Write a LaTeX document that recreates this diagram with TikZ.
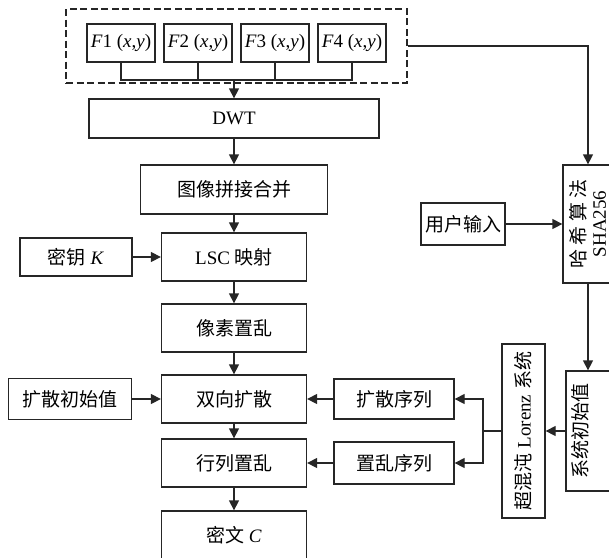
\documentclass[tikz,border=0pt]{standalone}
\usepackage{fontspec}
\setmainfont{Liberation Serif}
\newfontfamily\cjk{Noto Sans CJK SC}
\usetikzlibrary{arrows.meta}
\tikzset{
  box/.style={draw=black!85, line width=1.3pt, inner sep=0pt, font=\fontsize{19}{22}\selectfont},
  frame/.style={draw=black!85, line width=1.2pt, dash pattern=on 7pt off 3.5pt},
  ln/.style={draw=black!85, line width=1.3pt},
  arr/.style={ln, -{Triangle[length=10pt,width=10pt]}},
}
\begin{document}
\begin{tikzpicture}[x=1pt,y=-1pt]
\useasboundingbox (0,0) rectangle (609,557);
\clip (0,0) rectangle (609,557);
% input images
\node[frame, minimum width=341, minimum height=74] (frame) at (236.5,46) {};
\node[box, minimum width=68, minimum height=38] (f1) at (121,43) {\textit{F}1 (\textit{x},\textit{y})};
\node[box, minimum width=68, minimum height=38] (f2) at (198,43) {\textit{F}2 (\textit{x},\textit{y})};
\node[box, minimum width=68, minimum height=38] (f3) at (275,43) {\textit{F}3 (\textit{x},\textit{y})};
\node[box, minimum width=68, minimum height=38] (f4) at (352,43) {\textit{F}4 (\textit{x},\textit{y})};
\coordinate (bus) at (234,80);
% main chain
\node[box, minimum width=290, minimum height=39] (dwt) at (234,118.5) {DWT};
\node[box, minimum width=187, minimum height=49] (merge) at (234,189.5) {\cjk 图像拼接合并};
\node[box, minimum width=145, minimum height=48] (lsc) at (234,257) {LSC {\cjk 映射}};
\node[box, minimum width=145, minimum height=48] (perm) at (234,328) {\cjk 像素置乱};
\node[box, minimum width=145, minimum height=48] (diff) at (234,399) {\cjk 双向扩散};
\node[box, minimum width=145, minimum height=48] (rowcol) at (234,463) {\cjk 行列置乱};
\node[box, minimum width=145, minimum height=48] (cipher) at (234,535) {{\cjk 密文} \textit{C}};
% side inputs
\node[box, minimum width=112, minimum height=38] (key) at (76,257) {{\cjk 密钥} \textit{K}};
\node[box, minimum width=123, minimum height=41] (dinit) at (70,399) {\cjk 扩散初始值};
\node[box, minimum width=120, minimum height=40] (dseq) at (394,399) {\cjk 扩散序列};
\node[box, minimum width=120, minimum height=42] (pseq) at (394,463) {\cjk 置乱序列};
% key generation
\node[box, minimum width=84, minimum height=42] (user) at (463,224) {\cjk 用户输入};
\node[box, rotate=90, align=center, minimum width=118, minimum height=50] (hash) at (588,224) {{\cjk 哈 希 算 法}\\[-2pt]SHA256};
\node[box, rotate=90, minimum width=174, minimum height=43] (lorenz) at (523.5,431) {{\cjk 超混沌} Lorenz {\cjk 系统}};
\node[box, minimum width=44, minimum height=120] (sinit) at (588,431) {};
\node[rotate=90, font=\fontsize{19}{22}\selectfont] (sinitlbl) at (580,431) {\cjk 系统初始值};
\coordinate (split) at (483,431);

\draw[ln] (f1.south) |- (bus) -| (f4.south);
\draw[ln] (f2.south) -- (f2.south |- bus);
\draw[ln] (f3.south) -- (f3.south |- bus);
\draw[arr] (bus) -- (dwt);
\draw[arr] (dwt) -- (merge);
\draw[arr] (merge) -- (lsc);
\draw[arr] (lsc) -- (perm);
\draw[arr] (perm) -- (diff);
\draw[arr] (diff) -- (rowcol);
\draw[arr] (rowcol) -- (cipher);
\draw[arr] (key) -- (lsc);
\draw[arr] (dinit) -- (diff);
\draw[arr] (dseq) -- (diff);
\draw[arr] (pseq) -- (rowcol);
\draw[arr] (frame.east) -| (hash);
\draw[arr] (user) -- (hash);
\draw[arr] (hash) -- (sinit);
\draw[arr] (sinit) -- (lorenz);
\draw[ln] (lorenz) -- (split);
\draw[arr] (split) |- (dseq);
\draw[arr] (split) |- (pseq);
\end{tikzpicture}
\end{document}
